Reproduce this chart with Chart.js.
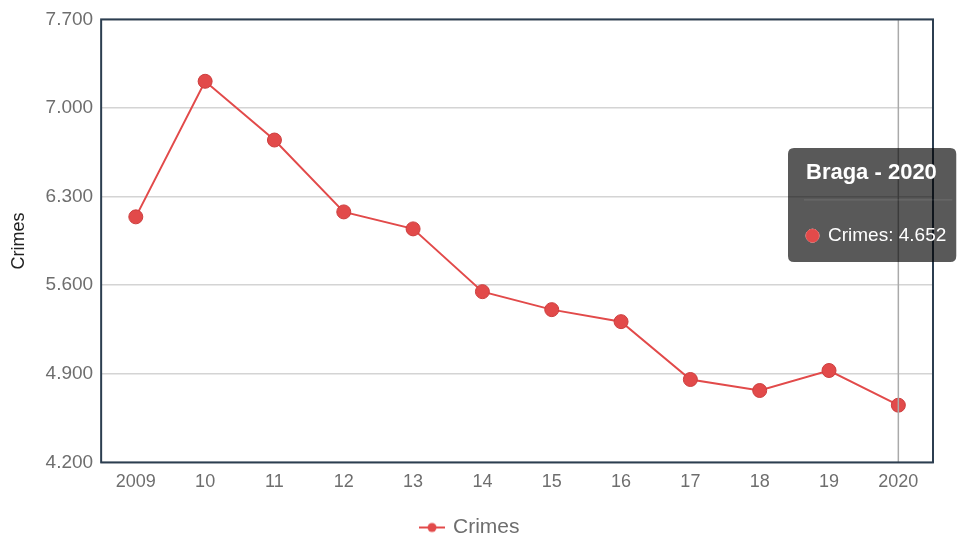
<!DOCTYPE html>
<html>
<head>
<meta charset="utf-8">
<script src="https://cdn.jsdelivr.net/npm/chart.js@4"></script>
<style>
    body { margin: 0; background: #fff; }
    #chart { display: block; }
</style>
</head>
<body>
<canvas id="chart" width="959" height="540"></canvas>
<script>
const years = ['2009', '10', '11', '12', '13', '14', '15', '16', '17', '18', '19', '2020'];
const crimes = [6140, 7211, 6747, 6179, 6045, 5549, 5407, 5312, 4855, 4768, 4926, 4652];
const yTicks = [4200, 4900, 5600, 6300, 7000, 7700];

const red = '#e24a4a';

function fmt(v) {
    return v.toString().replace(/\B(?=(\d{3})+(?!\d))/g, '.');
}

// legend marker: short line with a dot
const marker = document.createElement('canvas');
marker.width = 26;
marker.height = 12;
const mctx = marker.getContext('2d');
mctx.strokeStyle = red;
mctx.lineWidth = 2;
mctx.beginPath();
mctx.moveTo(0, 6);
mctx.lineTo(26, 6);
mctx.stroke();
mctx.fillStyle = red;
mctx.beginPath();
mctx.arc(13, 6, 4.5, 0, Math.PI * 2);
mctx.fill();

Chart.Tooltip.positioners.fixed = function () {
    return { x: 788, y: 205 };
};

const framePlugin = {
    id: 'frame',
    afterDatasetsDraw(chart) {
        const { ctx, chartArea } = chart;
        const active = chart.tooltip.getActiveElements();
        ctx.save();
        if (active.length) {
            const x = active[0].element.x;
            ctx.strokeStyle = '#aaaaaa';
            ctx.lineWidth = 1.5;
            ctx.beginPath();
            ctx.moveTo(x, chartArea.top);
            ctx.lineTo(x, chartArea.bottom);
            ctx.stroke();
        }
        ctx.strokeStyle = '#2c3e50';
        ctx.lineWidth = 2;
        ctx.strokeRect(chartArea.left, chartArea.top, chartArea.right - chartArea.left, chartArea.bottom - chartArea.top);
        ctx.restore();
    },
    afterTooltipDraw(chart, args) {
        const t = args.tooltip;
        const ctx = chart.ctx;
        ctx.save();
        ctx.strokeStyle = 'rgba(255,255,255,0.12)';
        ctx.lineWidth = 1;
        ctx.beginPath();
        ctx.moveTo(t.x + 16, t.y + 52);
        ctx.lineTo(t.x + t.width - 4, t.y + 52);
        ctx.stroke();
        ctx.restore();
    }
};

const chart = new Chart(document.getElementById('chart'), {
    type: 'line',
    data: {
        labels: years,
        datasets: [{
            label: 'Crimes',
            data: crimes,
            borderColor: red,
            backgroundColor: red,
            borderWidth: 2,
            pointRadius: 7,
            pointHoverRadius: 7,
            pointBorderWidth: 1,
            pointBorderColor: '#cc3e3e',
            pointBackgroundColor: red,
            tension: 0
        }]
    },
    options: {
        responsive: false,
        animation: false,
        events: [],
        layout: { padding: { top: 8, right: 26, left: 8, bottom: -8 } },
        scales: {
            x: {
                offset: true,
                grid: { display: false },
                border: { display: false },
                ticks: { color: '#6e6e6e', font: { family: 'Liberation Sans, Arial', size: 18 }, padding: 1 },
                afterFit(scale) {
                    scale.height += 23;
                }
            },
            y: {
                min: 4200,
                max: 7700,
                border: { display: false },
                grid: { color: '#d4d4d4', lineWidth: 1.5, drawTicks: false },
                afterBuildTicks(axis) {
                    axis.ticks = yTicks.map(v => ({ value: v }));
                },
                ticks: {
                    color: '#6e6e6e',
                    font: { family: 'Liberation Sans, Arial', size: 19 },
                    padding: 8,
                    callback: v => fmt(v)
                },
                title: {
                    display: true,
                    text: 'Crimes',
                    color: '#222',
                    font: { family: 'Liberation Sans, Arial', size: 18 },
                    padding: { top: 0, bottom: 8 }
                }
            }
        },
        plugins: {
            legend: {
                position: 'bottom',
                labels: {
                    usePointStyle: true,
                    pointStyle: marker,
                    color: '#6e6e6e',
                    font: { family: 'Liberation Sans, Arial', size: 21 },
                    padding: 0
                }
            },
            tooltip: {
                position: 'fixed',
                xAlign: 'left',
                yAlign: 'center',
                caretSize: 0,
                caretPadding: 0,
                cornerRadius: 6,
                backgroundColor: 'rgba(0,0,0,0.65)',
                padding: { top: 12, bottom: 15, left: 18, right: 10 },
                titleFont: { family: 'Liberation Sans, Arial', size: 22, weight: 'bold' },
                titleMarginBottom: 38,
                bodyFont: { family: 'Liberation Sans, Arial', size: 19 },
                titleColor: '#fff',
                bodyColor: '#fff',
                usePointStyle: true,
                boxWidth: 13,
                boxHeight: 13,
                boxPadding: 7,
                callbacks: {
                    title: items => 'Braga - ' + (2009 + items[0].dataIndex),
                    label: item => item.dataset.label + ': ' + fmt(item.raw),
                    labelColor: () => ({ borderColor: red, backgroundColor: red, borderWidth: 0 }),
                    labelPointStyle: () => ({ pointStyle: 'circle', rotation: 0 })
                }
            }
        }
    },
    plugins: [framePlugin]
});

chart.tooltip.setActiveElements([{ datasetIndex: 0, index: 11 }], { x: 900, y: 405 });
chart.update();
</script>
</body>
</html>
